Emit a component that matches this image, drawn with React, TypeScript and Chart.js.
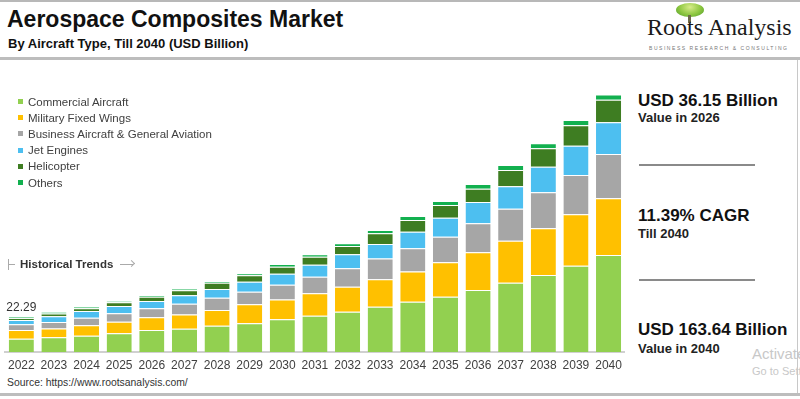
import React, { useEffect, useRef } from "react";
import { Chart, registerables } from "chart.js";

Chart.register(...registerables);

const years = ["2022","2023","2024","2025","2026","2027","2028","2029","2030","2031","2032","2033","2034","2035","2036","2037","2038","2039","2040"];
const commercial = [8.5, 9.3, 10.4, 11.9, 14.0, 14.8, 16.7, 18.2, 20.8, 23.1, 25.6, 28.8, 32.0, 35.1, 39.4, 44.0, 48.9, 54.8, 61.6];
const military = [5.5, 5.7, 6.6, 7.4, 8.1, 9.1, 10.0, 12.1, 12.5, 14.2, 15.9, 17.4, 19.1, 21.9, 24.0, 26.7, 29.7, 32.7, 36.2];
const business = [3.6, 4.0, 4.8, 5.3, 5.7, 6.8, 7.8, 8.0, 9.5, 10.5, 11.7, 13.3, 14.9, 16.3, 18.4, 20.3, 22.9, 25.0, 28.0];
const jetEngines = [2.8, 3.8, 4.3, 4.6, 4.6, 5.3, 5.5, 6.4, 7.0, 7.6, 8.9, 9.1, 10.5, 12.1, 13.5, 14.4, 16.3, 18.6, 20.3];
const helicopter = [1.1, 1.7, 1.7, 2.4, 2.7, 3.2, 4.0, 4.1, 4.4, 5.1, 5.3, 6.8, 7.4, 8.1, 8.5, 10.2, 11.7, 13.0, 14.3];
const others = [0.8, 1.0, 1.0, 0.8, 1.1, 1.1, 1.1, 1.3, 1.7, 1.7, 1.7, 2.1, 2.5, 2.5, 3.0, 3.2, 3.2, 3.4, 3.2];

const seriesNames = ["Commercial Aircraft", "Military Fixed Wings", "Business Aircraft & General Aviation", "Jet Engines", "Helicopter", "Others"];
const seriesColors = ["#92D050", "#FFC000", "#A6A6A6", "#4DBFF0", "#3E7D22", "#12B04F"];
const seriesValues = [commercial, military, business, jetEngines, helicopter, others];

const annotatedIndex = 0;
const annotatedText = "22.29";

const FONT = "'Liberation Sans', Arial, sans-serif";

const totalLabelPlugin = {
  id: "totalLabel",
  afterDatasetsDraw(chart: any) {
    const last = chart.getDatasetMeta(chart.data.datasets.length - 1);
    const el = last.data[annotatedIndex];
    if (!el) return;
    const ctx = chart.ctx;
    ctx.save();
    ctx.font = `12px ${FONT}`;
    ctx.fillStyle = "#333333";
    ctx.textAlign = "center";
    ctx.textBaseline = "bottom";
    ctx.fillText(annotatedText, el.x, el.y - 3);
    ctx.restore();
  },
};

export default function App() {
  const ref = useRef<HTMLCanvasElement>(null);

  useEffect(() => {
    document.body.style.margin = "0";
    const chart = new Chart(ref.current!, {
      type: "bar",
      data: {
        labels: years,
        datasets: seriesValues.map((vals, i) => ({
          label: seriesNames[i],
          data: vals,
          backgroundColor: seriesColors[i],
          borderColor: "rgba(255,255,255,0.55)",
          borderWidth: { top: 1, left: 0, right: 0, bottom: 0 },
          borderSkipped: false,
          barPercentage: 0.77,
          categoryPercentage: 1,
        })),
      },
      options: {
        responsive: false,
        animation: false,
        devicePixelRatio: 1,
        layout: { padding: { left: 5, right: 3, top: 8.8, bottom: 0 } },
        plugins: { legend: { display: false }, tooltip: { enabled: false } },
        scales: {
          x: {
            stacked: true,
            grid: { display: false, drawTicks: false },
            border: { display: true, color: "#D0D0D0", width: 2 },
            ticks: { color: "#404040", font: { family: FONT, size: 12 }, padding: 6, maxRotation: 0, autoSkip: false },
            afterFit: (scale: any) => { scale.height = 23; },
          },
          y: { stacked: true, display: false, min: 0, max: 180 },
        },
      },
      plugins: [totalLabelPlugin],
    });
    return () => chart.destroy();
  }, []);

  const txt = (style: React.CSSProperties, content: React.ReactNode) => (
    <div style={{ position: "absolute", fontFamily: FONT, whiteSpace: "nowrap", lineHeight: 1, ...style }}>{content}</div>
  );

  return (
    <div style={{ position: "relative", width: 800, height: 399, background: "#fff", overflow: "hidden", fontFamily: FONT }}>
      {/* frame lines */}
      <div style={{ position: "absolute", left: 0, top: 0, width: 800, height: 2, background: "#B8B8B8" }} />
      <div style={{ position: "absolute", left: 0, top: 57, width: 800, height: 3, background: "#BDBDBD" }} />
      <div style={{ position: "absolute", left: 0, top: 393, width: 800, height: 3, background: "#BDBDBD" }} />
      <div style={{ position: "absolute", left: 797, top: 60, width: 1, height: 333, background: "#C8C8C8" }} />

      {txt({ left: 7, top: 8, fontSize: 23, fontWeight: 700, color: "#111" }, "Aerospace Composites Market")}
      {txt({ left: 8, top: 37, fontSize: 13, fontWeight: 700, color: "#111" }, "By Aircraft Type, Till 2040 (USD Billion)")}

      {/* logo */}
      <div style={{ position: "absolute", left: 676, top: 3, width: 28, height: 14, borderRadius: "50%", background: "radial-gradient(ellipse at 50% 30%, #d8ec8a 0%, #8cc63f 55%, #4f9a2e 100%)" }} />
      <div style={{ position: "absolute", left: 688, top: 15, width: 3, height: 8, background: "#6d6a4a" }} />
      {txt({ left: 647, top: 15, fontSize: 24, fontFamily: "'Liberation Serif', 'DejaVu Serif', serif", color: "#1a1a1a" }, "Roots Analysis")}
      {txt({ left: 649, top: 46, fontSize: 5, letterSpacing: 1.55, color: "#777" }, "BUSINESS RESEARCH & CONSULTING")}

      <canvas ref={ref} width={628} height={315} style={{ position: "absolute", left: 0, top: 60, width: 628, height: 315 }} />

      {/* legend */}
      {seriesNames.map((n, i) => (
        <div key={n} style={{ position: "absolute", left: 18, top: 95 + i * 16.2, height: 13, display: "flex", alignItems: "center", fontFamily: FONT, fontSize: 11.5, color: "#404040", whiteSpace: "nowrap" }}>
          <span style={{ display: "inline-block", width: 5, height: 5, background: seriesColors[i], marginRight: 5 }} />
          {n}
        </div>
      ))}

      {/* historical trends */}
      <div style={{ position: "absolute", left: 8, top: 259, width: 1, height: 11, background: "#aaa" }} />
      <div style={{ position: "absolute", left: 9, top: 264, width: 6, height: 1, background: "#aaa" }} />
      {txt({ left: 20, top: 259, fontSize: 11.5, fontWeight: 700, color: "#333" }, "Historical Trends")}
      <div style={{ position: "absolute", left: 120, top: 264, width: 13, height: 1, background: "#aaa" }} />
      <div style={{ position: "absolute", left: 129, top: 261, width: 5, height: 5, borderTop: "1px solid #aaa", borderRight: "1px solid #aaa", transform: "rotate(45deg)", boxSizing: "border-box" }} />

      {txt({ left: 7, top: 378, fontSize: 10.4, color: "#333" }, "Source: https://www.rootsanalysis.com/")}

      {/* right panel */}
      {txt({ left: 638, top: 92, fontSize: 17, fontWeight: 700, color: "#111" }, "USD 36.15 Billion")}
      {txt({ left: 638, top: 111, fontSize: 13, fontWeight: 700, color: "#222" }, "Value in 2026")}
      <div style={{ position: "absolute", left: 639, top: 164, width: 116, height: 2, background: "#8A8A8A" }} />
      {txt({ left: 638, top: 207, fontSize: 17, fontWeight: 700, color: "#111" }, "11.39% CAGR")}
      {txt({ left: 638, top: 227, fontSize: 13, fontWeight: 700, color: "#222" }, "Till 2040")}
      <div style={{ position: "absolute", left: 639, top: 279, width: 116, height: 2, background: "#8A8A8A" }} />
      {txt({ left: 638, top: 321, fontSize: 17, fontWeight: 700, color: "#111" }, "USD 163.64 Billion")}
      {txt({ left: 638, top: 342, fontSize: 13, fontWeight: 700, color: "#222" }, "Value in 2040")}
      {txt({ left: 752, top: 346, fontSize: 15, color: "#C8C8C8" }, "Activate Windows")}
      {txt({ left: 752, top: 366, fontSize: 11, color: "#C8C8C8" }, "Go to Settings")}
    </div>
  );
}
